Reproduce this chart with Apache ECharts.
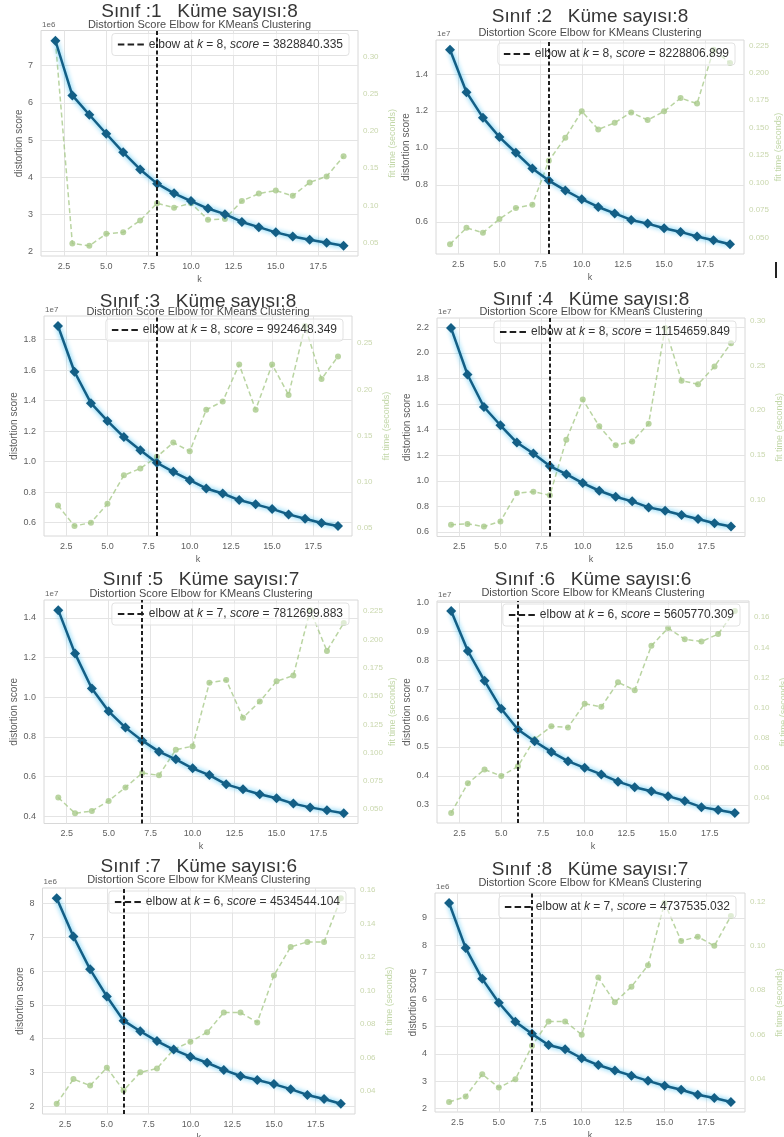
<!DOCTYPE html>
<html><head><meta charset="utf-8">
<script src="https://cdn.jsdelivr.net/npm/echarts@6/dist/echarts.min.js"></script>
<style>html,body{margin:0;padding:0;background:#fff}#c{width:784px;height:1137px}</style>
</head><body><div id="c"></div>
<script>
// ---------- data ----------
const kValues = [2,3,4,5,6,7,8,9,10,11,12,13,14,15,16,17,18,19];

// distortion scores, in units of the exponent shown above each axis
const distortion1 = [7.67,6.20,5.68,5.17,4.67,4.21,3.8288,3.57,3.36,3.16,3.01,2.80,2.66,2.52,2.41,2.32,2.24,2.16];   // 1e6
const distortion2 = [1.532,1.302,1.164,1.059,0.974,0.889,0.8229,0.770,0.722,0.680,0.645,0.610,0.590,0.565,0.545,0.520,0.500,0.478]; // 1e7
const distortion3 = [1.889,1.589,1.383,1.267,1.161,1.074,0.9925,0.933,0.878,0.824,0.791,0.748,0.720,0.690,0.654,0.626,0.598,0.578]; // 1e7
const distortion4 = [2.195,1.831,1.577,1.434,1.299,1.213,1.1155,1.052,0.982,0.922,0.875,0.839,0.792,0.766,0.732,0.701,0.668,0.642]; // 1e7
const distortion5 = [1.439,1.220,1.044,0.929,0.847,0.7813,0.726,0.687,0.642,0.608,0.561,0.536,0.511,0.491,0.464,0.445,0.430,0.415]; // 1e7
const distortion6 = [0.970,0.832,0.729,0.632,0.5606,0.520,0.483,0.451,0.428,0.405,0.380,0.361,0.347,0.330,0.313,0.292,0.282,0.272]; // 1e7
const distortion7 = [8.15,7.02,6.05,5.25,4.5345,4.22,3.93,3.68,3.47,3.29,3.08,2.90,2.78,2.66,2.51,2.34,2.22,2.08];   // 1e6
const distortion8 = [9.55,7.89,6.76,5.88,5.18,4.7375,4.33,4.17,3.84,3.59,3.39,3.20,3.01,2.83,2.68,2.50,2.38,2.23];   // 1e6

// fit time (seconds)
const fitTime1 = [0.321,0.049,0.046,0.062,0.064,0.080,0.103,0.097,0.103,0.081,0.082,0.106,0.116,0.120,0.113,0.131,0.139,0.166];
const fitTime2 = [0.044,0.059,0.0545,0.067,0.077,0.080,0.120,0.141,0.165,0.1485,0.1545,0.164,0.157,0.165,0.177,0.172,0.221,0.209];
const fitTime3 = [0.0744,0.0522,0.0558,0.0762,0.107,0.1145,0.127,0.1425,0.133,0.178,0.187,0.227,0.178,0.227,0.194,0.2686,0.2113,0.2356];
const fitTime4 = [0.072,0.073,0.070,0.0757,0.1075,0.109,0.105,0.167,0.212,0.182,0.161,0.165,0.185,0.292,0.233,0.229,0.249,0.275];
const fitTime5 = [0.0604,0.0464,0.0485,0.0574,0.0693,0.0821,0.080,0.1027,0.1057,0.1619,0.1643,0.131,0.1452,0.1631,0.1682,0.226,0.190,0.2146];
const fitTime6 = [0.0298,0.0495,0.0587,0.0543,0.0608,0.0788,0.0874,0.0867,0.1025,0.1004,0.1167,0.1115,0.141,0.1528,0.1454,0.1438,0.1488,0.1641];
const fitTime7 = [0.0325,0.0472,0.0433,0.054,0.0404,0.0512,0.0535,0.0649,0.0694,0.0751,0.0869,0.0869,0.081,0.109,0.126,0.129,0.129,0.155];
const fitTime8 = [0.0297,0.0322,0.0422,0.0362,0.040,0.055,0.066,0.066,0.060,0.0857,0.0746,0.0816,0.0913,0.1193,0.1022,0.1041,0.100,0.1134];

const classNumbers = [1,2,3,4,5,6,7,8];
const clusterCounts = [8,8,8,8,7,6,6,7];   // elbow k
const elbowScores = ['3828840.335','8228806.899','9924648.349','11154659.849','7812699.883','5605770.309','4534544.104','4737535.032'];
const exponentLabels = ['1e6','1e7','1e7','1e7','1e7','1e7','1e6','1e6'];

const xTicks = [2.5,5,7.5,10,12.5,15,17.5];
const leftTicks1 = [2,3,4,5,6,7];
const leftTicks2 = [0.6,0.8,1.0,1.2,1.4];
const leftTicks3 = [0.6,0.8,1.0,1.2,1.4,1.6,1.8];
const leftTicks4 = [0.6,0.8,1.0,1.2,1.4,1.6,1.8,2.0,2.2];
const leftTicks5 = [0.4,0.6,0.8,1.0,1.2,1.4];
const leftTicks6 = [0.3,0.4,0.5,0.6,0.7,0.8,0.9,1.0];
const leftTicks7 = [2,3,4,5,6,7,8];
const leftTicks8 = [2,3,4,5,6,7,8,9];
const rightTicks1 = [0.05,0.10,0.15,0.20,0.25,0.30];
const rightTicks2 = [0.050,0.075,0.100,0.125,0.150,0.175,0.200,0.225];
const rightTicks3 = [0.05,0.10,0.15,0.20,0.25];
const rightTicks4 = [0.10,0.15,0.20,0.25,0.30];
const rightTicks5 = [0.050,0.075,0.100,0.125,0.150,0.175,0.200,0.225];
const rightTicks6 = [0.04,0.06,0.08,0.10,0.12,0.14,0.16];
const rightTicks7 = [0.04,0.06,0.08,0.10,0.12,0.14,0.16];
const rightTicks8 = [0.04,0.06,0.08,0.10,0.12];
const leftDecimals = [0,1,1,1,1,1,0,0];
const rightDecimals = [2,3,2,2,3,2,2,2];

const distortions = [distortion1,distortion2,distortion3,distortion4,distortion5,distortion6,distortion7,distortion8];
const fitTimes = [fitTime1,fitTime2,fitTime3,fitTime4,fitTime5,fitTime6,fitTime7,fitTime8];
const leftTicks = [leftTicks1,leftTicks2,leftTicks3,leftTicks4,leftTicks5,leftTicks6,leftTicks7,leftTicks8];
const rightTicks = [rightTicks1,rightTicks2,rightTicks3,rightTicks4,rightTicks5,rightTicks6,rightTicks7,rightTicks8];

// ---------- layout (pixels) ----------
const W = 784;
const boxes = [
  {l:41,  t:30.5, r:358, b:256,   ty:10,  sy:24},
  {l:436, t:40,   r:744, b:254,   ty:15,  sy:32},
  {l:44,  t:316,  r:352, b:536,   ty:300, sy:311},
  {l:437, t:318,  r:745, b:536.5, ty:298, sy:311},
  {l:44,  t:600,  r:358, b:823.5, ty:578, sy:593},
  {l:437, t:601,  r:749, b:823,   ty:578, sy:592},
  {l:42.5,t:888,  r:355, b:1114,  ty:865, sy:879},
  {l:435, t:893,  r:745, b:1112,  ty:868, sy:882}
];

const FF = "'Liberation Sans', Arial, sans-serif";
const BLUE = '#135f86';
const GREEN = '#a8c98a';
const DARK = '#1f1f1f';
const padMin = v => v.min - 0.05 * (v.max - v.min);
const padMax = v => v.max + 0.05 * (v.max - v.min);

const grid = [], xAxis = [], yAxis = [], series = [], title = [], legend = [];

boxes.forEach((b, i) => {
  const cx = (b.l + b.r) / 2;
  grid.push({left:b.l, top:b.t, width:b.r-b.l, height:b.b-b.t, show:true,
    borderColor:'#d8d8d8', borderWidth:1, backgroundColor:'#fff', outerBoundsMode:'none', containLabel:false});

  title.push({text:'Sınıf :' + classNumbers[i] + '   Küme sayısı:' + clusterCounts[i],
    left:cx, top:b.ty - 8, textAlign:'center', padding:0,
    textStyle:{fontSize:19, fontWeight:'normal', color:'#353535', fontFamily:FF}});
  title.push({text:'Distortion Score Elbow for KMeans Clustering',
    left:cx, top:b.sy - 5, textAlign:'center', padding:0,
    textStyle:{fontSize:11, fontWeight:'normal', color:'#4a4a4a', fontFamily:FF}});
  title.push({text:exponentLabels[i], left:b.l + 1, top:b.t - 10, padding:0,
    textStyle:{fontSize:8, fontWeight:'normal', color:'#666', fontFamily:FF}});

  xAxis.push({type:'value', gridIndex:i, min:padMin, max:padMax,
    axisLine:{show:false}, axisTick:{show:false, customValues:xTicks},
    axisLabel:{customValues:xTicks, formatter:v => v.toFixed(1), fontSize:9, color:'#5e5e5e', margin:6, fontFamily:FF},
    splitLine:{show:true, lineStyle:{color:'#e4e4e4', width:1}},
    name:'k', nameLocation:'middle', nameGap:19, nameTextStyle:{fontSize:9, color:'#5e5e5e', fontFamily:FF}});

  yAxis.push({type:'value', gridIndex:i, position:'left', min:padMin, max:padMax,
    axisLine:{show:false}, axisTick:{show:false, customValues:leftTicks[i]},
    axisLabel:{customValues:leftTicks[i], formatter:v => v.toFixed(leftDecimals[i]), fontSize:9, color:'#5e5e5e', margin:8, fontFamily:FF},
    splitLine:{show:true, lineStyle:{color:'#e4e4e4', width:1}},
    name:'distortion score', nameLocation:'middle', nameRotate:90, nameGap:14,
    nameTextStyle:{fontSize:10, color:'#5e5e5e', fontFamily:FF}});

  yAxis.push({type:'value', gridIndex:i, position:'right', min:padMin, max:padMax,
    axisLine:{show:false}, axisTick:{show:false, customValues:rightTicks[i]},
    axisLabel:{customValues:rightTicks[i], formatter:v => v.toFixed(rightDecimals[i]), fontSize:8, color:'#c9d7ad', margin:5, fontFamily:FF},
    splitLine:{show:false},
    name:'fit time (seconds)', nameLocation:'middle', nameRotate:90, nameGap:30,
    nameTextStyle:{fontSize:9, color:'#c2d7a8', fontFamily:FF}});

  series.push({type:'line', name:'fit' + i, xAxisIndex:i, yAxisIndex:2*i+1,
    data:kValues.map((k, j) => [k, fitTimes[i][j]]),
    symbol:'circle', symbolSize:6, z:2,
    lineStyle:{color:GREEN, width:1.5, type:[5,3], opacity:0.8},
    itemStyle:{color:GREEN, opacity:0.8}});

  series.push({type:'line', name:'dist' + i, xAxisIndex:i, yAxisIndex:2*i,
    data:kValues.map((k, j) => [k, distortions[i][j]]),
    symbol:'diamond', symbolSize:10, z:4,
    lineStyle:{color:BLUE, width:2.5, shadowColor:'rgba(45,185,240,0.95)', shadowBlur:5},
    itemStyle:{color:BLUE},
    markLine:{silent:true, symbol:'none', animation:false, label:{show:false},
      lineStyle:{color:DARK, type:[4,2.5], width:2},
      data:[{xAxis:clusterCounts[i]}]}});

  series.push({type:'line', name:'elbow' + i, xAxisIndex:i, yAxisIndex:2*i, data:[],
    symbol:'none', color:DARK, itemStyle:{color:DARK}, lineStyle:{color:DARK, type:[4,2.5], width:2}});

  legend.push({data:['elbow' + i], right:W - b.r + 9, top:b.t + 3,
    icon:'path://M0,0h6v2h-6z M9,0h6v2h-6z M18,0h6v2h-6z',
    itemWidth:26, itemHeight:10, itemStyle:{color:DARK, borderWidth:0}, lineStyle:{opacity:0},
    padding:[5,6], selectedMode:false,
    backgroundColor:'rgba(255,255,255,0.55)', borderColor:'#e2e2e2', borderWidth:1, borderRadius:3,
    textStyle:{fontSize:12, color:'#333', fontFamily:FF,
      rich:{i:{fontStyle:'italic', fontSize:12, color:'#333', fontFamily:FF}}},
    formatter:() => 'elbow at {i|k} = ' + clusterCounts[i] + ', {i|score} = ' + elbowScores[i]});
});

const chart = echarts.init(document.getElementById('c'), null, {renderer:'canvas'});
chart.setOption({
  animation:false,
  backgroundColor:'#fff',
  title, legend, grid, xAxis, yAxis, series,
  graphic:[{type:'rect', left:775, top:262, shape:{width:2, height:16}, style:{fill:'#222'}}]
});
</script></body></html>
